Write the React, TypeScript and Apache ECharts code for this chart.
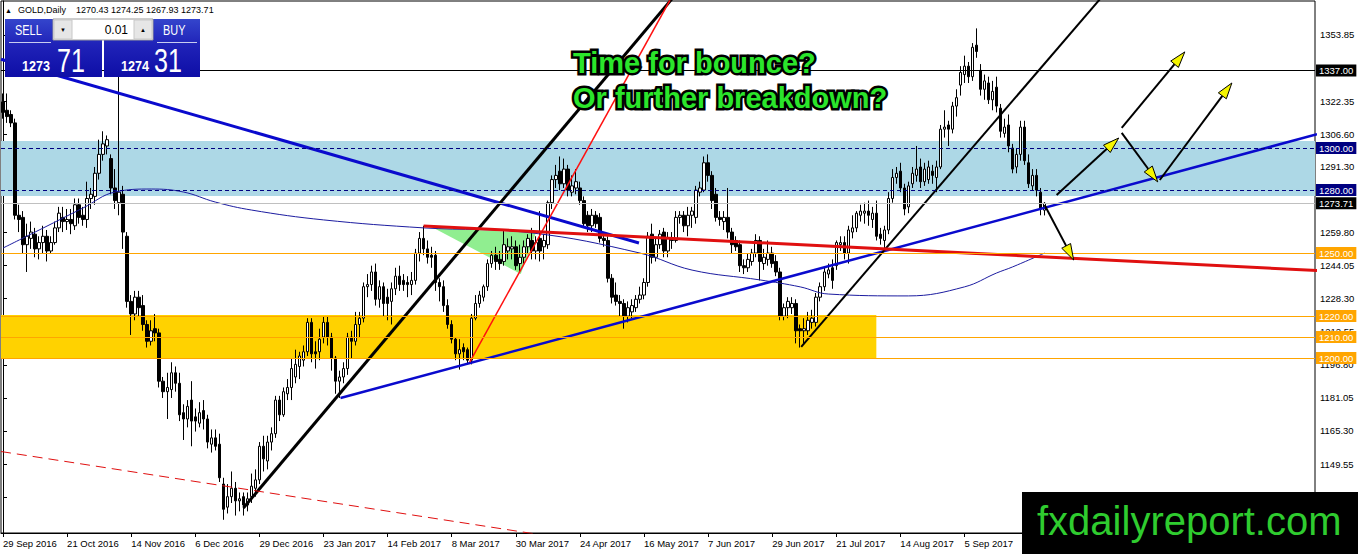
import React, { useEffect, useRef } from "react";
import * as echarts from "echarts";

// ---------- DATA ----------
// Daily XAUUSD candles, [open, close, low, high], bar 0 = 29 Sep 2016 ... bar 260 = 3 Oct 2017
const candles: number[][] = [
  [1322,1317,1314,1326],[1318,1315,1312,1326],[1316,1312,1310,1318],[1312,1268,1266,1314],[1268,1266,1260,1273],
  [1267,1254,1250,1270],[1254,1258,1241,1264],[1257,1260,1252,1265],[1259,1252,1248,1262],[1252,1255,1247,1258],
  [1255,1258,1250,1263],[1258,1251,1246,1261],[1251,1255,1250,1258],[1255,1262,1254,1265],[1262,1269,1260,1272],
  [1267,1265,1260,1272],[1265,1266,1261,1271],[1266,1264,1259,1271],[1263,1273,1261,1276],[1273,1267,1264,1276],
  [1268,1266,1263,1272],[1266,1276,1262,1284],[1276,1278,1271,1281],[1277,1288,1273,1291],[1288,1297,1285,1304],
  [1297,1302,1294,1308],[1301,1304,1297,1306],[1295,1281,1278,1297],[1281,1275,1271,1290],[1274,1279,1268,1337.4],
  [1278,1260,1252,1282],[1258,1227,1224,1260],[1227,1221,1211,1230],[1221,1229,1218,1232],[1229,1224,1220,1232],
  [1225,1216,1213,1230],[1216,1208,1205,1218],[1208,1213,1206,1218],[1214,1212,1208,1221],[1212,1189,1186,1214],
  [1189,1184,1181,1191],[1184,1186,1171,1193],[1185,1193,1181,1198],[1193,1188,1184,1196],[1188,1173,1170,1193],
  [1174,1171,1161,1178],[1171,1177,1167,1180],[1180,1170,1158,1189],[1172,1170,1165,1176],[1169,1174,1167,1179],
  [1175,1171,1166,1180],[1171,1160,1157,1173],[1159,1162,1155,1166],[1162,1158,1156,1166],[1159,1143,1141,1164],
  [1140,1128,1123,1143],[1129,1134,1126,1140],[1134,1138,1131,1146],[1138,1132,1125,1141],[1132,1133,1127,1136],
  [1134,1130,1125,1136],[1130,1133,1127,1136],[1134,1139,1131,1145],[1138,1142,1134,1147],[1142,1158,1140,1160],
  [1158,1152,1146,1163],[1151,1160,1147,1163],[1160,1164,1156,1167],[1164,1180,1162,1182],[1180,1173,1170,1182],
  [1173,1184,1172,1186],[1183,1186,1180,1190],[1186,1195,1180,1200],[1191,1197,1188,1204],[1196,1201,1190,1203],
  [1199,1203,1196,1206],[1203,1217,1201,1219],[1217,1202,1198,1219],[1203,1202,1195,1208],[1203,1209,1199,1214],
  [1210,1217,1207,1220],[1217,1210,1206,1220],[1210,1200,1194,1212],[1200,1189,1183,1201],[1189,1191,1181,1194],
  [1191,1195,1188,1198],[1195,1210,1192,1212],[1210,1208,1200,1213],[1208,1216,1206,1222],[1216,1219,1210,1222],
  [1219,1234,1217,1236],[1234,1235,1229,1240],[1235,1241,1232,1244],[1241,1228,1225,1245],[1228,1234,1224,1237],
  [1234,1226,1220,1236],[1229,1226,1218,1233],[1227,1233,1216,1236],[1233,1239,1230,1243],[1239,1235,1232,1244],
  [1237,1235,1232,1240],[1236,1235,1229,1239],[1235,1237,1230,1241],[1237,1250,1235,1252],[1250,1257,1246,1260],
  [1257,1252,1249,1263],[1252,1248,1245,1256],[1249,1248,1243,1253],[1249,1236,1232,1251],[1236,1234,1227,1238],
  [1234,1225,1222,1237],[1225,1216,1214,1228],[1216,1209,1207,1218],[1209,1202,1199,1210],[1202,1204,1194.5,1209],
  [1205,1203,1199,1207],[1204,1199,1197,1205],[1199,1219,1197,1221],[1219,1226,1218,1230],[1226,1230,1224,1232],
  [1229,1234,1227,1235],[1234,1245,1232,1247],[1245,1249,1243,1251],[1249,1246,1242,1253],[1247,1245,1242,1251],
  [1246,1254,1244,1261],[1251,1253,1247,1257],[1252,1253,1247,1258],[1253,1244,1242,1256],[1245,1248,1241,1254],
  [1248,1253,1245,1256],[1253,1257,1250,1259],[1256,1251,1247,1262],[1251,1255,1247,1258],[1257,1251,1246,1270],
  [1253,1256,1247,1259],[1254,1274,1252,1275],[1274,1285,1271,1287],[1285,1287,1281,1292],[1289,1283,1280,1296],
  [1283,1290,1281,1295],[1290,1280,1277,1292],[1279,1282,1277,1287],[1281,1284,1278,1290],[1281,1275,1273,1284],
  [1275,1264,1262,1277],[1268,1263,1260,1270],[1263,1268,1260,1271],[1268,1264,1262,1270],[1267,1257,1255,1269],
  [1257,1256,1253,1260],[1256,1238,1236,1258],[1238,1229,1226,1240],[1230,1227,1225,1236],[1227,1226,1220,1230],
  [1226,1220,1214,1228],[1220,1224,1217,1227],[1222,1225,1219,1228],[1224,1228,1222,1230],[1228,1230,1226,1234],
  [1230,1236,1228,1238],[1236,1258,1234,1260],[1259,1248,1245,1264],[1248,1254,1246,1257],[1254,1259,1252,1261],
  [1260,1251,1248,1262],[1251,1257,1248,1260],[1257,1256,1252,1260],[1256,1267,1255,1270],[1267,1268,1264,1270],
  [1268,1263,1260,1270],[1263,1268,1258,1272],[1268,1270,1262,1272],[1267,1280,1264,1282],[1279,1281,1277,1284],
  [1280,1293,1279,1296],[1293,1287,1284,1297],[1287,1275,1271,1289],[1278,1267,1265,1281],[1267,1266,1263,1270],
  [1265,1267,1261,1270],[1267,1260,1257,1281],[1260,1254,1250,1262],[1256,1253,1251,1258],[1254,1244,1241,1256],
  [1244,1243,1240,1247],[1243,1247,1241,1250],[1246,1250,1244,1252],[1250,1256,1248,1259],[1256,1246,1237,1258],
  [1245,1248,1242,1252],[1247,1250,1244,1256],[1250,1245,1243,1253],[1246,1241,1239,1249],[1241,1220,1218,1243],
  [1220,1224,1218,1226],[1224,1227,1219,1229],[1224,1226,1221,1229],[1226,1213,1207,1228],[1214,1213,1205,1216],
  [1213,1214,1207,1219],[1213,1218,1211,1222],[1217,1219,1214,1223],[1217,1229,1215,1231],[1229,1234,1227,1236],
  [1234,1241,1232,1243],[1240,1242,1238,1245],[1243,1237,1233,1247],[1244,1255,1242,1256],[1254,1255,1251,1258],
  [1255,1250,1247,1258],[1250,1261,1245,1263],[1260,1262,1257,1268],[1262,1269,1260,1270],[1268,1270,1265,1273],
  [1269,1270,1264,1274],[1270,1268,1263,1275],[1266,1269,1262,1272],[1269,1258,1256,1275],[1259,1257,1254,1262],
  [1256,1261,1251,1263],[1261,1276,1259,1279],[1276,1286,1274,1290],[1286,1288,1283,1291],[1289,1281,1279,1293],
  [1281,1271,1268,1283],[1272,1282,1269,1284],[1283,1288,1281,1291],[1287,1290,1284,1301],[1291,1284,1281,1295],
  [1284,1290,1282,1293],[1285,1291,1283,1294],[1289,1287,1283,1292],[1286,1291,1279,1294],[1291,1309,1290,1311],
  [1309,1310,1305,1318],[1311,1309,1301,1313],[1309,1320,1307,1322],[1320,1324,1315,1328],[1330,1336,1325,1339],
  [1335,1339,1331,1344],[1339,1334,1331,1341],[1334,1348,1332,1350],[1349,1346,1343,1357],[1337,1328,1325,1340],
  [1328,1332,1323,1335],[1331,1323,1321,1334],[1323,1327,1318,1332],[1329,1320,1317,1334],[1319,1308,1305,1321],
  [1307,1310,1305,1314],[1311,1301,1298,1316],[1300,1290,1288,1302],[1291,1297,1288,1300],[1297,1310,1294,1313],
  [1310,1294,1292,1313],[1293,1283,1281,1297],[1282,1287,1280,1290],[1287,1280,1277,1290],[1279,1271,1268,1281],
  [1270.43,1273.71,1267.93,1274.25],
];

const slotCount = 328; // bars + empty shift space on the right
const labelBars = [0, 16, 32, 48, 64, 80, 96, 112, 128, 144, 160, 176, 192, 208, 224, 240];
const labelTexts = [
  "29 Sep 2016", "21 Oct 2016", "14 Nov 2016", "6 Dec 2016", "29 Dec 2016", "23 Jan 2017",
  "14 Feb 2017", "8 Mar 2017", "30 Mar 2017", "24 Apr 2017", "16 May 2017", "7 Jun 2017",
  "29 Jun 2017", "21 Jul 2017", "14 Aug 2017", "5 Sep 2017",
];
const yTickValues = [1353.85, 1322.35, 1306.6, 1291.3, 1259.8, 1244.05, 1228.3, 1212.55, 1196.8, 1181.05, 1165.3, 1149.55, 1133.8];
const yMin = 1116.7;
const yMax = 1370.04;

// moving average, sampled [bar, value]
const maBars = [0, 8, 20, 28, 37, 45, 53, 62, 80, 105, 132, 159, 172, 189, 199, 206, 226, 240, 248, 252, 260];
const maValues = [1252.4, 1260.0, 1271.5, 1279.1, 1280.5, 1279.1, 1274.3, 1270.5, 1265.8, 1262.0, 1259.6, 1250.0, 1241.9, 1237.2, 1233.9, 1230.5, 1229.6, 1233.9, 1240.5, 1243.4, 1250.0];

// horizontal price levels
const levelValues = [1337.0, 1300.0, 1280.0, 1273.71, 1250.0, 1220.0, 1210.0, 1200.0];
const levelLineColors = ["#000000", "#000080", "#000080", "#C0C0C0", "#FFA500", "#FFA500", "#FFA500", "#FFA500"];
const levelLabelColors = ["#000000", "#000080", "#000080", "#000000", "#FFA500", "#FFA500", "#FFA500", "#FFA500"];
const levelDashed = [false, true, true, false, false, false, false, false];

// zones
const blueZone = [1303.4, 1277.2];
const goldZone = [1220.5, 1200.0];
const goldZoneEndBar = 218;

// trendlines [bar1, value1, bar2, value2]
const trendBlueDown = [-0.5, 1342.3, 158.75, 1254.8];
const trendBlueUp = [84.25, 1181.0, 328, 1306.6];
const trendBlackA = [60, 1128.6, 167, 1371.1];
const trendBlackB = [199.25, 1205.3, 274.3, 1372];
const trendRedSteep = [116.5, 1198.1, 166.5, 1370.5];
const trendRedFlat = [105, 1262.9, 328, 1241.7];
const trendRedDashed = [-0.5, 1155.5, 149, 1111.5];
const greenTriangle = [107.5, 1262.0, 133, 1259.6, 129.25, 1240.0];
const arrows = [
  [260, 1272.9, 267.25, 1246.7],
  [263, 1277.7, 278.5, 1304.8],
  [279.25, 1307.2, 288.25, 1283.9],
  [279.25, 1309.6, 295, 1345.8],
  [288.75, 1284.8, 306.75, 1331.0],
];

// ---------- CHART ----------
const FONT = "'Liberation Sans', Arial, sans-serif";

function seg(p: number[]) {
  return [[p[0], p[1]], [p[2], p[3]]];
}

function trend(p: number[], color: string, width: number, type: any = "solid") {
  return {
    type: "line",
    xAxisIndex: 1,
    data: seg(p),
    symbol: "none",
    silent: true,
    clip: true,
    z: 4,
    lineStyle: { color, width, type },
  };
}

function buildOption() {
  const slots = Array.from({ length: slotCount }, (_, i) => String(i));
  const labelSet = new Set(labelBars);
  const labelMap: Record<number, string> = {};
  labelBars.forEach((b, k) => (labelMap[b] = labelTexts[k]));

  const markLineData = levelValues.map((v, k) => ({
    yAxis: v,
    lineStyle: { color: levelLineColors[k], width: 1, type: levelDashed[k] ? [4, 3] : "solid" },
    label: {
      show: true,
      position: "end",
      distance: 1,
      formatter: v.toFixed(2),
      color: "#FFFFFF",
      backgroundColor: levelLabelColors[k],
      padding: [1, 3, 0, 3],
      fontFamily: FONT,
      fontSize: 9.5,
      lineHeight: 11,
    },
  }));

  const graphic: any[] = [
    // header
    { type: "text", z: 100, x: 5, y: 10, style: { text: "▲", fontSize: 7, fill: "#000", verticalAlign: "middle", textVerticalAlign: "middle", fontFamily: FONT } },
    { type: "text", z: 100, x: 18, y: 10, style: { text: "GOLD,Daily", fontSize: 9, fill: "#000", verticalAlign: "middle", textVerticalAlign: "middle", fontFamily: FONT } },
    { type: "text", z: 100, x: 76, y: 10, style: { text: "1270.43 1274.25 1267.93 1273.71", fontSize: 9, fill: "#000", verticalAlign: "middle", textVerticalAlign: "middle", fontFamily: FONT } },
    // trade panel
    {
      type: "rect", z: 100, shape: { x: 5, y: 19, width: 97, height: 58 },
      style: { fill: new echarts.graphic.LinearGradient(0, 0, 0, 1, [{ offset: 0, color: "#3445CC" }, { offset: 0.45, color: "#1F22B8" }, { offset: 1, color: "#0E0EA6" }]) },
    },
    {
      type: "rect", z: 100, shape: { x: 104, y: 19, width: 96, height: 58 },
      style: { fill: new echarts.graphic.LinearGradient(0, 0, 0, 1, [{ offset: 0, color: "#3445CC" }, { offset: 0.45, color: "#1F22B8" }, { offset: 1, color: "#0E0EA6" }]) },
    },
    { type: "rect", z: 101, shape: { x: 53, y: 19, width: 100, height: 21 }, style: { fill: "#FFFFFF", stroke: "#9A9A9A", lineWidth: 1 } },
    { type: "rect", z: 102, shape: { x: 54, y: 20, width: 18, height: 19 }, style: { fill: "#E6E6E6", stroke: "#C8C8C8", lineWidth: 1 } },
    { type: "rect", z: 102, shape: { x: 134, y: 20, width: 18, height: 19 }, style: { fill: "#E6E6E6", stroke: "#C8C8C8", lineWidth: 1 } },
    { type: "text", z: 103, x: 63, y: 30, style: { text: "▼", fontSize: 6, fill: "#000", align: "center", textAlign: "center", verticalAlign: "middle", textVerticalAlign: "middle", fontFamily: FONT } },
    { type: "text", z: 103, x: 143, y: 30, style: { text: "▲", fontSize: 6, fill: "#000", align: "center", textAlign: "center", verticalAlign: "middle", textVerticalAlign: "middle", fontFamily: FONT } },
    { type: "text", z: 103, x: 128, y: 30, style: { text: "0.01", fontSize: 12, fill: "#000", align: "right", textAlign: "right", verticalAlign: "middle", textVerticalAlign: "middle", fontFamily: FONT } },
    { type: "text", z: 103, x: 15, y: 31, scaleX: 0.78, style: { text: "SELL", fontSize: 14, fill: "#FFFFFF", verticalAlign: "middle", textVerticalAlign: "middle", fontFamily: FONT } },
    { type: "text", z: 103, x: 163, y: 31, scaleX: 0.78, style: { text: "BUY", fontSize: 14, fill: "#FFFFFF", verticalAlign: "middle", textVerticalAlign: "middle", fontFamily: FONT } },
    { type: "line", z: 103, shape: { x1: 9, y1: 42.5, x2: 51, y2: 42.5 }, style: { stroke: "#C8CCF0", lineWidth: 1 } },
    { type: "line", z: 103, shape: { x1: 157, y1: 42.5, x2: 197, y2: 42.5 }, style: { stroke: "#C8CCF0", lineWidth: 1 } },
    { type: "text", z: 103, x: 22, y: 66, scaleX: 0.9, style: { text: "1273", fontSize: 14, fontWeight: "bold", fill: "#FFFFFF", verticalAlign: "middle", textVerticalAlign: "middle", fontFamily: FONT } },
    { type: "text", z: 103, x: 57, y: 60, scaleX: 0.74, style: { text: "71", fontSize: 34, fill: "#FFFFFF", verticalAlign: "middle", textVerticalAlign: "middle", fontFamily: FONT } },
    { type: "text", z: 103, x: 121, y: 66, scaleX: 0.9, style: { text: "1274", fontSize: 14, fontWeight: "bold", fill: "#FFFFFF", verticalAlign: "middle", textVerticalAlign: "middle", fontFamily: FONT } },
    { type: "text", z: 103, x: 154, y: 60, scaleX: 0.74, style: { text: "31", fontSize: 34, fill: "#FFFFFF", verticalAlign: "middle", textVerticalAlign: "middle", fontFamily: FONT } },
    // headline
    { type: "text", z: 100, x: 573, y: 63, style: { text: "Time for bounce?", fontSize: 29, fontWeight: "bold", fill: "#2BE52B", stroke: "#000", lineWidth: 5, verticalAlign: "middle", textVerticalAlign: "middle", fontFamily: FONT } },
    { type: "text", z: 100, x: 573, y: 98, style: { text: "Or further breakdown?", fontSize: 29, fontWeight: "bold", fill: "#2BE52B", stroke: "#000", lineWidth: 5, verticalAlign: "middle", textVerticalAlign: "middle", fontFamily: FONT } },
    // logo
    { type: "rect", z: 110, shape: { x: 1022, y: 492, width: 336, height: 62 }, style: { fill: "#000000" } },
    { type: "text", z: 111, x: 1037, y: 521, style: { text: "fxdailyreport.com", fontSize: 40, fill: "#2FCC2F", verticalAlign: "middle", textVerticalAlign: "middle", fontFamily: FONT } },
  ];

  return {
    animation: false,
    backgroundColor: "#FFFFFF",
    grid: { left: 1, right: 43, top: 1, bottom: 21, show: true, borderColor: "#000", borderWidth: 1, backgroundColor: "transparent", containLabel: false, outerBoundsMode: "none" },
    xAxis: [
      {
        type: "category",
        data: slots,
        boundaryGap: true,
        axisLine: { show: true, lineStyle: { color: "#000", width: 1 } },
        axisTick: { show: true, alignWithLabel: true, length: 4, interval: (i: number) => labelSet.has(i), lineStyle: { color: "#000" } },
        axisLabel: {
          interval: (i: number) => labelSet.has(i),
          formatter: (_v: string, i: number) => labelMap[i] || "",
          align: "left",
          color: "#000",
          fontFamily: FONT,
          fontSize: 9.5,
          margin: 5,
          hideOverlap: false,
        },
        splitLine: { show: false },
      },
      { type: "value", min: -0.5, max: slotCount - 0.5, show: false, splitLine: { show: false } },
    ],
    yAxis: {
      type: "value",
      position: "right",
      min: yMin,
      max: yMax,
      scale: true,
      axisLine: { show: true, lineStyle: { color: "#000", width: 1 } },
      axisTick: { show: true, length: 4, customValues: yTickValues, lineStyle: { color: "#000" } },
      axisLabel: { customValues: yTickValues, formatter: (v: number) => v.toFixed(2), color: "#000", fontFamily: FONT, fontSize: 9.5, margin: 5 },
      splitLine: { show: false },
    },
    series: [
      {
        type: "custom",
        xAxisIndex: 1,
        z: 2,
        silent: true,
        data: [greenTriangle],
        renderItem: (_p: any, api: any) => {
          const pts = [0, 2, 4].map((k) => api.coord([api.value(k), api.value(k + 1)]));
          return { type: "polygon", shape: { points: pts }, style: { fill: "#90EE90" } };
        },
      },
      {
        type: "candlestick",
        xAxisIndex: 0,
        z: 3,
        barWidth: 3,
        silent: true,
        data: candles,
        itemStyle: { color: "#FFFFFF", color0: "#000000", borderColor: "#000000", borderColor0: "#000000", borderColorDoji: "#000000", borderWidth: 1 },
        markLine: { silent: true, symbol: "none", z: 5, animation: false, data: markLineData },
      },
      {
        type: "line",
        xAxisIndex: 1,
        z: 4,
        silent: true,
        symbol: "none",
        smooth: 0.4,
        data: maBars.map((b, k) => [b, maValues[k]]),
        lineStyle: { color: "#1C1CA0", width: 1 },
        markArea: {
          silent: true,
          z: 1,
          data: [
            [{ yAxis: blueZone[0], itemStyle: { color: "#ADD8E6", opacity: 1 } }, { yAxis: blueZone[1] }],
            [{ coord: [-0.5, goldZone[0]], itemStyle: { color: "#FFD200", opacity: 1 } }, { coord: [goldZoneEndBar, goldZone[1]] }],
          ],
        },
      },
      trend(trendBlueDown, "#0A0ACD", 3),
      trend(trendBlueUp, "#0A0ACD", 2.5),
      trend(trendBlackA, "#000000", 3),
      trend(trendBlackB, "#000000", 2),
      trend(trendRedSteep, "#FF1010", 1.5),
      trend(trendRedFlat, "#E01010", 3),
      trend(trendRedDashed, "#E01010", 1, [10, 6]),
      {
        type: "custom",
        xAxisIndex: 1,
        z: 6,
        silent: true,
        data: arrows,
        renderItem: (_p: any, api: any) => {
          const p1 = api.coord([api.value(0), api.value(1)]);
          const p2 = api.coord([api.value(2), api.value(3)]);
          const dx = p2[0] - p1[0];
          const dy = p2[1] - p1[1];
          const len = Math.hypot(dx, dy) || 1;
          const ux = dx / len;
          const uy = dy / len;
          const L = 16;
          const W = 5;
          const bx = p2[0] - ux * L;
          const by = p2[1] - uy * L;
          return {
            type: "group",
            children: [
              { type: "line", shape: { x1: p1[0], y1: p1[1], x2: bx, y2: by }, style: { stroke: "#000", lineWidth: 2 } },
              {
                type: "polygon",
                shape: { points: [[p2[0], p2[1]], [bx - uy * W, by + ux * W], [bx + uy * W, by - ux * W]] },
                style: { fill: "#F5F500", stroke: "#000", lineWidth: 1 },
              },
            ],
          };
        },
      },
    ],
    graphic,
  };
}

export default function App() {
  const ref = useRef<HTMLDivElement>(null);
  useEffect(() => {
    if (!ref.current) return;
    const chart = echarts.init(ref.current, null, { renderer: "svg" });
    chart.setOption(buildOption() as any);
    return () => chart.dispose();
  }, []);
  return (
    <div
      ref={ref}
      style={{ position: "absolute", left: 0, top: 0, width: 1358, height: 554, background: "#FFFFFF" }}
    />
  );
}
